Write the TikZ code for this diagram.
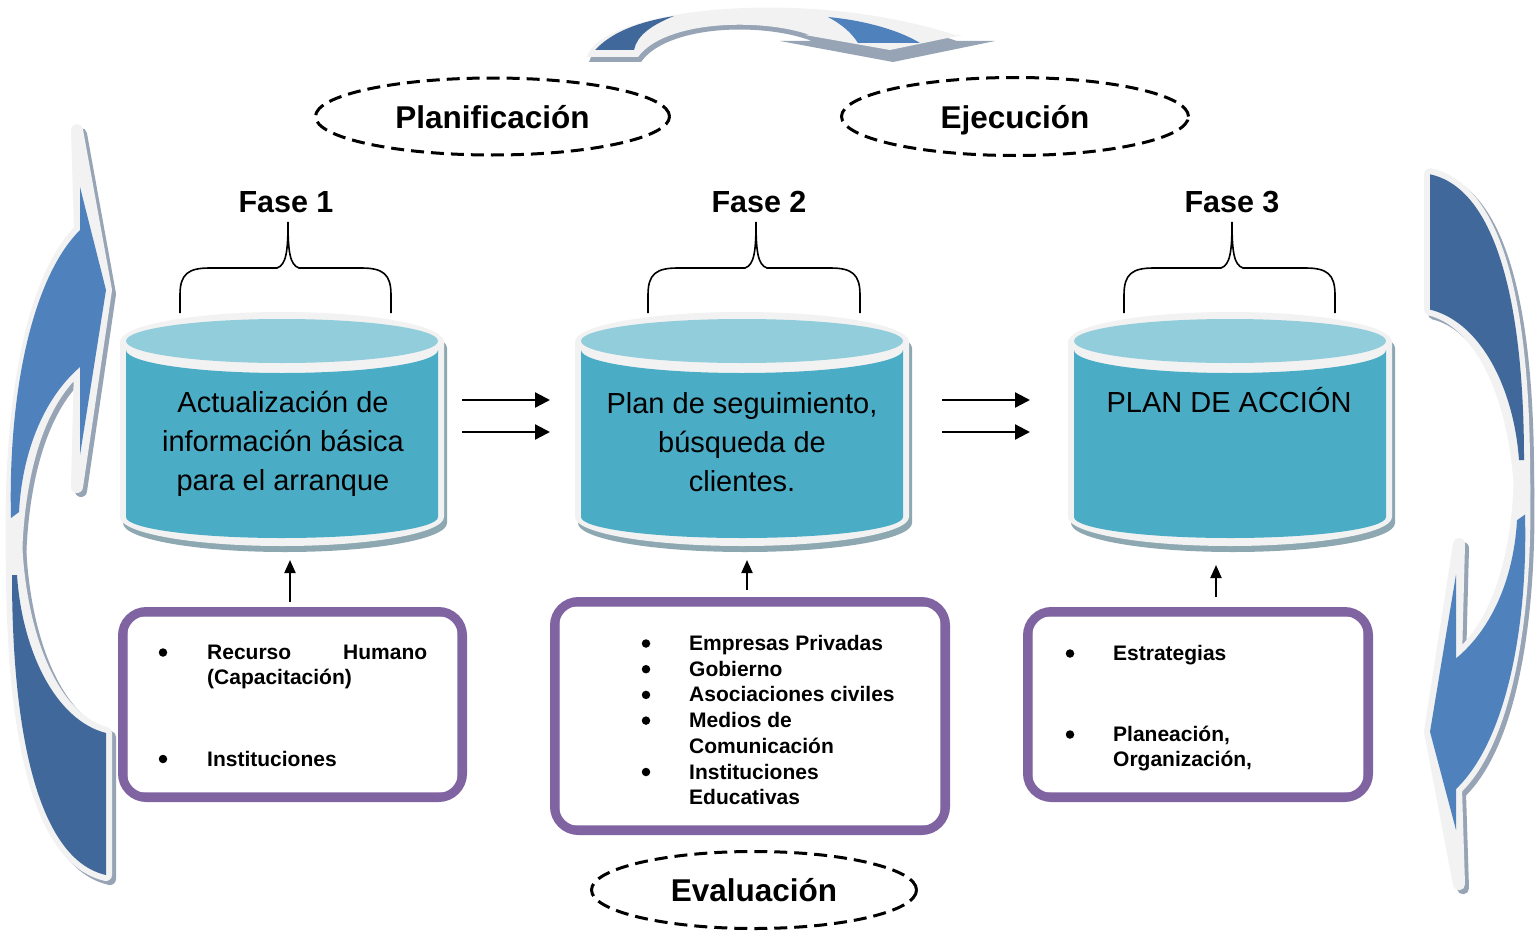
\documentclass[tikz,border=0pt]{standalone}
\usepackage{fontspec}
\setmainfont{Liberation Sans}
\usetikzlibrary{shapes.geometric,arrows.meta,calc}
\definecolor{rim}{HTML}{F2F2F2}
\definecolor{shd}{HTML}{97A4B6}
\definecolor{cshd}{HTML}{8EA8B2}
\definecolor{dblue}{HTML}{41689A}
\definecolor{lblue}{HTML}{4F81BD}
\definecolor{ctop}{HTML}{92CDDC}
\definecolor{cbody}{HTML}{4BACC6}
\definecolor{purp}{HTML}{8064A2}

\newcommand\upblue{(80,230) .. controls (30,280) and (8,400) .. (11,518) -- (19,512) .. controls (22,455) and (42,400) .. (80,367) -- (80,455) -- (106,290) -- (80,187) -- cycle}
\newcommand\uprim{(80,230) .. controls (30,280) and (8,410) .. (12,560) -- (16,560) .. controls (18,470) and (40,400) .. (80,367) -- (77,487) -- (106,290) -- (77,130) -- cycle}
\newcommand\lowblue{(12,575) .. controls (12,740) and (40,860) .. (106,875) -- (106,733) .. controls (55,720) and (22,650) .. (17,575) -- cycle}
\newcommand\lowrim{(12,540) .. controls (10,740) and (40,860) .. (106,875) -- (106,733) .. controls (55,720) and (20,640) .. (16,540) -- cycle}

\newcommand\bigarrow[1]{%
\begin{scope}[shift={(4,4)}]\begin{scope}[#1]
\filldraw[shd,line width=12,line join=round] \lowrim;
\filldraw[shd,line width=12,line join=round] \uprim;
\end{scope}\end{scope}
\begin{scope}[#1]
\filldraw[rim,line width=12,line join=round] \lowrim;
\fill[dblue] \lowblue;
\filldraw[rim,line width=12,line join=round] \uprim;
\fill[lblue] \upblue;
\end{scope}}

\newcommand\mycyl[3]{%
\begin{scope}[shift={(3,6)}]
\fill[cshd] (#1-#2,342) arc[start angle=180,end angle=360,x radius=#2,y radius=30] -- (#1+#2,517) arc[start angle=0,end angle=180,x radius=#2,y radius=29] -- cycle;
\end{scope}
\fill[rim] (#1-#2,342) arc[start angle=180,end angle=360,x radius=#2,y radius=30] -- (#1+#2,517) arc[start angle=0,end angle=180,x radius=#2,y radius=29] -- cycle;
\fill[cbody] (#1-#3,350) -- (#1-#3,517) arc[start angle=180,end angle=0,x radius=#3,y radius=21] -- (#1+#3,350) arc[start angle=0,end angle=180,x radius=#3,y radius=23] -- cycle;
\fill[ctop] (#1,341) ellipse[x radius=#3,y radius=22];}

\newcommand\mybrace[3]{%
\draw[bracel] (#1,313) -- (#1,295) .. controls (#1,274) and (#1+8,268) .. (#1+30,268) -- (#3-11,268) .. controls (#3-2,265) and (#3,252) .. (#3,222) .. controls (#3,252) and (#3+2,265) .. (#3+11,268) -- (#2-30,268) .. controls (#2-8,268) and (#2,274) .. (#2,295) -- (#2,313);}

\begin{document}
\begin{tikzpicture}[x=1pt,y=-1pt,
  bracel/.style={line width=1.6},
  dashell/.style={ellipse,draw,line width=3,dash pattern=on 13pt off 7pt,inner sep=0,
    font=\fontsize{31.5}{31.5}\bfseries,text height=23pt,text depth=0pt},
  faselbl/.style={anchor=base,inner sep=0,font=\fontsize{30.5}{30.5}\bfseries},
  cylnode/.style={inner sep=0,minimum width=324,minimum height=240},
  cyltext/.style={inner sep=0,align=center,font=\fontsize{29}{39}\selectfont},
  harrow/.style={line width=2.4,-{Triangle[length=15pt,width=15pt]}},
  uparrow/.style={line width=2,-{Triangle[length=13pt,width=11pt]}},
  pbox/.style={draw=purp,line width=9,rounded corners=24,inner sep=0,fill=white},
  pinner/.style={draw=purp,line width=2.2,rounded corners=16},
  itm/.style={anchor=base west,inner sep=0,font=\fontsize{21}{25.7}\bfseries},
  bul/.style={circle,fill=black,inner sep=0,minimum size=8.5}]
\useasboundingbox (0,0) rectangle (1536,934);
\fill[white] (0,0) rectangle (1536,934);

% top curved arrow
\fill[shd] (589,62) .. controls (602,15) and (802,-10) .. (957,41) -- (995,41) -- (893,62) -- (780,41) -- (812,41) .. controls (762,22) and (667,25) .. (641,62) -- cycle;
\fill[rim] (587,57) .. controls (600,10) and (800,-15) .. (955,35) -- (962,35) -- (890,50) -- (805,35) -- (810,35) .. controls (762,18) and (665,20) .. (638,57) -- cycle;
\fill[dblue] (595,50) .. controls (612,32) and (638,22) .. (674,16) .. controls (652,25) and (637,35) .. (634,50) -- cycle;
\fill[lblue] (828,17) .. controls (870,21) and (902,32) .. (920,43) -- (858,43) .. controls (851,32) and (841,24) .. (828,17) -- cycle;

% side curved arrows
\bigarrow{}
\bigarrow{shift={(1475,525)},rotate=180,yscale=0.953,shift={(-61,-507)}}

% ellipses
\node[dashell,minimum width=354,minimum height=77] (plan) at (492.5,116.5) {Planificación};
\node[dashell,minimum width=347,minimum height=78] (ejec) at (1015,116.5) {Ejecución};
\node[dashell,minimum width=325,minimum height=77] (eval) at (754,890) {Evaluación};

% fases
\node[faselbl] (f1) at (286,212) {Fase 1};
\node[faselbl] (f2) at (759,212) {Fase 2};
\node[faselbl] (f3) at (1232,212) {Fase 3};
\mybrace{180}{391}{288}
\mybrace{648}{860}{756}
\mybrace{1124}{1335}{1232}

% cylinders
\mycyl{282}{162}{156}
\mycyl{742}{167}{161}
\mycyl{1230}{162}{156}
\node[cylnode] (cyl1) at (282,432) {};
\node[cylnode,minimum width=334] (cyl2) at (742,432) {};
\node[cylnode] (cyl3) at (1230,432) {};
\node[cyltext] (t1) at (283,444) {Actualización de\\información básica\\para el arranque};
\node[cyltext] (t2) at (742,442) {Plan de seguimiento,\\búsqueda de\\clientes.};
\node[cyltext,anchor=base] (t3) at (1229,412) {PLAN DE ACCIÓN};

% horizontal arrows
\coordinate (h1a) at (462,400); \coordinate (h1b) at (550,400);
\coordinate (h2a) at (462,432); \coordinate (h2b) at (550,432);
\coordinate (h3a) at (942,400); \coordinate (h3b) at (1030,400);
\coordinate (h4a) at (942,432); \coordinate (h4b) at (1030,432);
\draw[harrow] (h1a) -- (h1b);
\draw[harrow] (h2a) -- (h2b);
\draw[harrow] (h3a) -- (h3b);
\draw[harrow] (h4a) -- (h4b);

% boxes
\node[pbox,minimum width=340,minimum height=186] (b1) at (292.5,704.5) {};
\draw[pinner] ($(b1.north west)+(8.5,8.5)$) rectangle ($(b1.south east)+(-8.5,-8.5)$);
\node[pbox,minimum width=391,minimum height=229] (b2) at (750,716) {};
\draw[pinner] ($(b2.north west)+(8.5,8.5)$) rectangle ($(b2.south east)+(-8.5,-8.5)$);
\node[pbox,minimum width=341,minimum height=186] (b3) at (1198,704.5) {};
\draw[pinner] ($(b3.north west)+(8.5,8.5)$) rectangle ($(b3.south east)+(-8.5,-8.5)$);

% up arrows
\coordinate (u1s) at (290,602); \coordinate (u1e) at (290,560);
\coordinate (u2s) at (747,590); \coordinate (u2e) at (747,560);
\coordinate (u3s) at (1216,597); \coordinate (u3e) at (1216,565);
\draw[uparrow] (u1s) -- (u1e);
\draw[uparrow] (u2s) -- (u2e);
\draw[uparrow] (u3s) -- (u3e);

% box 1 text
\node[bul] at (163,652.5) {};
\node[itm] at (207,659.5) {\makebox[220pt][l]{Recurso\hfill Humano}};
\node[itm] at (207,684.5) {(Capacitación)};
\node[bul] at (163,759) {};
\node[itm] at (207,766) {Instituciones};

% box 2 text
\node[bul] at (646,643.5) {};
\node[itm] at (689,650.5) {Empresas Privadas};
\node[bul] at (646,669.2) {};
\node[itm] at (689,676.2) {Gobierno};
\node[bul] at (646,694.9) {};
\node[itm] at (689,701.9) {Asociaciones civiles};
\node[bul] at (646,720.6) {};
\node[itm] at (689,727.6) {Medios de};
\node[itm] at (689,753.3) {Comunicación};
\node[bul] at (646,772) {};
\node[itm] at (689,779) {Instituciones};
\node[itm] at (689,804.7) {Educativas};

% box 3 text
\node[bul] at (1070,653.5) {};
\node[itm] at (1113,660.5) {Estrategias};
\node[bul] at (1070,734.5) {};
\node[itm] at (1113,741.5) {Planeación,};
\node[itm] at (1113,766.5) {Organización,};
\end{tikzpicture}
\end{document}
